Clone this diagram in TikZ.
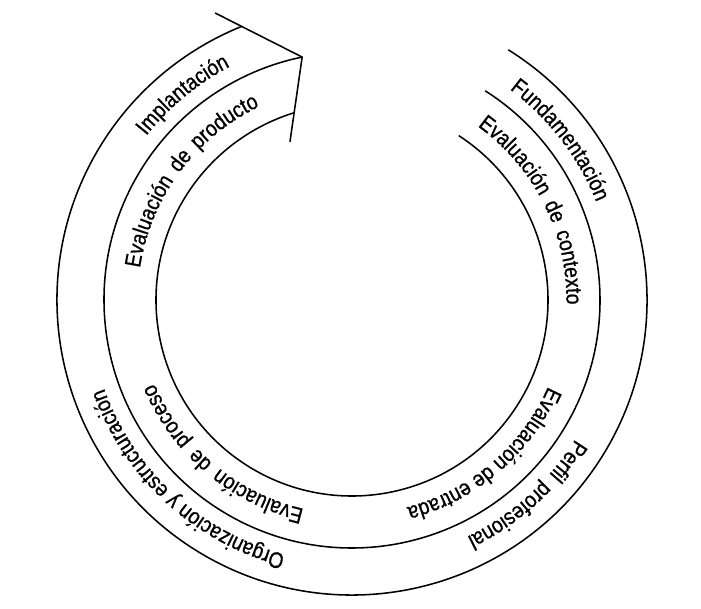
\documentclass[tikz,border=0pt]{standalone}
\usepackage{fontspec}
\setmainfont{Liberation Sans}[FakeStretch=0.86, FakeBold=0.8]
\usetikzlibrary{decorations.text}

\newcommand\arcfont{\fontsize{16}{19}\selectfont}
\newcommand\gap{\hspace{2.5pt}}

\begin{document}
\begin{tikzpicture}[
    band/.style={line width=1.1pt, black, line join=miter},
    arclabel/.style={decorate,
      decoration={text along path, text align=center, text={|\arcfont|#1}}},
  ]
  \useasboundingbox (-8.8,-7.725) rectangle (8.725,7.5);
  \coordinate (c) at (0,0);

  % Rings
  \draw[band] (c) ++(58:7.375) arc[start angle=58, end angle=-248, radius=7.375];
  \draw[band] (c) ++(57.5:6.2) arc[start angle=57.5, end angle=-258.4, radius=6.2];
  \draw[band] (c) ++(57:4.9) arc[start angle=57, end angle=-252.8, radius=4.9];

  % Arrow head
  \coordinate (head top) at (115.5:7.95);
  \coordinate (tip) at (101.6:6.2);
  \coordinate (head foot) at (111.4:4.25);
  \draw[band] (head top) -- (tip) -- (head foot);

  % Outer band
  \path[arclabel={Fundamentación}] (c) ++(97.5:6.58) arc[start angle=97.5, end angle=-22.5, radius=6.58];
  \path[arclabel={Perfil{\gap} profesional}] (c) ++(12:6.58) arc[start angle=12, end angle=-108, radius=6.58];
  \path[arclabel={Organización y estructuración}] (c) ++(-72.5:6.58) arc[start angle=-72.5, end angle=-192.5, radius=6.58];
  \path[arclabel={Implantación}] (c) ++(189.5:6.58) arc[start angle=189.5, end angle=69.5, radius=6.58];

  % Inner band
  \path[arclabel={Evaluación{\gap} de{\gap} contexto}] (c) ++(86.5:5.36) arc[start angle=86.5, end angle=-33.5, radius=5.36];
  \path[arclabel={Evaluación de entrada}] (c) ++(10.5:5.36) arc[start angle=10.5, end angle=-109.5, radius=5.36];
  \path[arclabel={Evaluación{\gap} de{\gap} proceso}] (c) ++(-70:5.36) arc[start angle=-70, end angle=-190, radius=5.36];
  \path[arclabel={Evaluación{\gap} de{\gap} producto}] (c) ++(203.5:5.36) arc[start angle=203.5, end angle=83.5, radius=5.36];
\end{tikzpicture}
\end{document}
